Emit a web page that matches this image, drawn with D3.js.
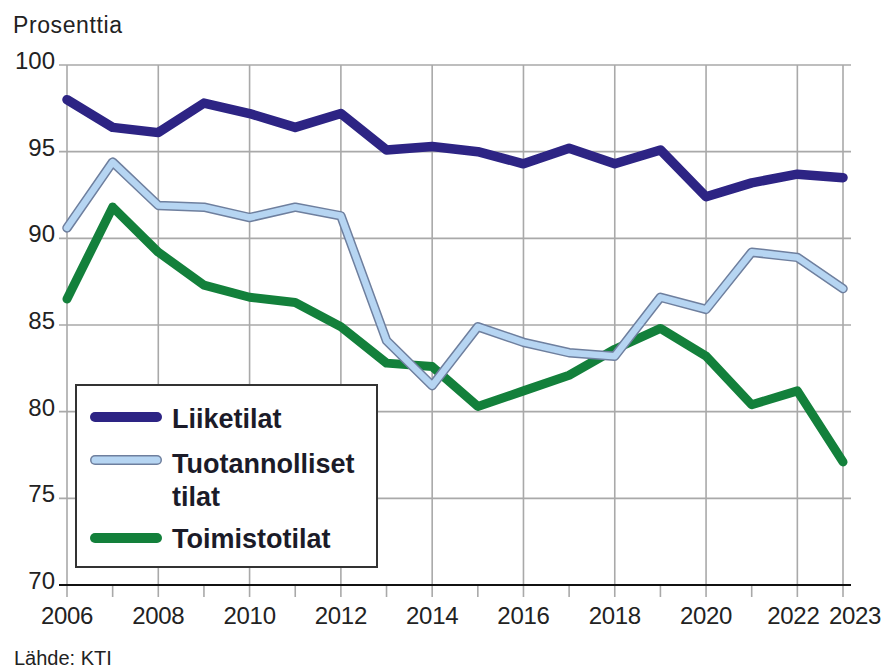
<!DOCTYPE html>
<html><head><meta charset="utf-8">
<script src="https://cdn.jsdelivr.net/npm/d3@7"></script>
<style>body{margin:0;background:#fff}svg{display:block}</style>
</head><body>
<svg id="c" width="888" height="670"></svg>
<script>
const years = [2006,2007,2008,2009,2010,2011,2012,2013,2014,2015,2016,2017,2018,2019,2020,2021,2022,2023];
const liiketilat = [98.0,96.4,96.1,97.8,97.2,96.4,97.2,95.1,95.3,95.0,94.3,95.2,94.3,95.1,92.4,93.2,93.7,93.5];
const tuotannolliset = [90.6,94.4,91.9,91.8,91.2,91.8,91.3,84.1,81.5,84.9,84.0,83.4,83.2,86.6,85.9,89.2,88.9,87.1];
const toimistotilat = [86.5,91.8,89.2,87.3,86.6,86.3,84.9,82.8,82.6,80.3,81.2,82.1,83.6,84.8,83.2,80.4,81.2,77.1];
const yTicks = [70,75,80,85,90,95,100];
const xTickLabels = [2006,2008,2010,2012,2014,2016,2018,2020,2022,2023];
const seriesNames = ["Liiketilat","Tuotannolliset tilat","Toimistotilat"];

const svg = d3.select("#c");
const x = d3.scaleLinear().domain([2006,2023]).range([67,843]);
const y = d3.scaleLinear().domain([70,100]).range([585,65]);
const font = "'Liberation Sans', Arial, Helvetica, sans-serif";
const grid = "#a9a9a9";

// horizontal gridlines
svg.append("g").selectAll("line").data(yTicks.filter(d=>d!==70)).join("line")
  .attr("x1",59).attr("x2",851).attr("y1",d=>y(d)).attr("y2",d=>y(d))
  .attr("stroke",grid).attr("stroke-width",1.6);
// vertical gridlines
svg.append("g").selectAll("line").data(xTickLabels).join("line")
  .attr("x1",d=>x(d)).attr("x2",d=>x(d)).attr("y1",y(100)).attr("y2",597)
  .attr("stroke",grid).attr("stroke-width",1.6);
// minor ticks for every year
svg.append("g").selectAll("line").data(years.filter(d=>!xTickLabels.includes(d))).join("line")
  .attr("x1",d=>x(d)).attr("x2",d=>x(d)).attr("y1",y(70)).attr("y2",597)
  .attr("stroke",grid).attr("stroke-width",1.6);
// baseline
svg.append("line").attr("x1",59).attr("x2",851).attr("y1",y(70)).attr("y2",y(70))
  .attr("stroke","#111").attr("stroke-width",2.2);

// y labels
svg.append("g").selectAll("text").data(yTicks).join("text")
  .attr("x",55).attr("y",d=>y(d)+4).attr("text-anchor","end")
  .attr("font-family",font).attr("font-size",24).attr("fill","#222")
  .text(d=>d);
// x labels (2022/2023 nudged apart as in the original)
const xShift = {2022:-4, 2023:12};
svg.append("g").selectAll("text").data(xTickLabels).join("text")
  .attr("x",d=>x(d)+(xShift[d]||0)).attr("y",624).attr("text-anchor","middle")
  .attr("font-family",font).attr("font-size",24).attr("fill","#222")
  .attr("letter-spacing",-0.3)
  .text(d=>d);

svg.append("text").attr("x",13).attr("y",33).attr("font-family",font).attr("font-size",23)
  .attr("fill","#222").attr("letter-spacing",0.6).text("Prosenttia");
svg.append("text").attr("x",14).attr("y",665).attr("font-family",font).attr("font-size",20)
  .attr("fill","#222").text("Lähde: KTI");

const line = d3.line().x((d,i)=>x(years[i])).y(d=>y(d));
function drawLine(vals, color, w){
  svg.append("path").datum(vals).attr("d",line).attr("fill","none")
    .attr("stroke",color).attr("stroke-width",w)
    .attr("stroke-linejoin","round").attr("stroke-linecap","round");
}
drawLine(toimistotilat,"#13803b",9);
drawLine(tuotannolliset,"#6e7f9e",9.5);
drawLine(tuotannolliset,"#b6d5f2",6.5);
drawLine(liiketilat,"#2d2484",9.5);

// legend
const lg = svg.append("g");
lg.append("rect").attr("x",76).attr("y",385).attr("width",301).attr("height",182)
  .attr("fill","#fff").attr("stroke","#333").attr("stroke-width",2);
const legendItems = [
  {name:seriesNames[0], lines:["Liiketilat"], sy:417, ty:[428], col:"#2d2484"},
  {name:seriesNames[1], lines:["Tuotannolliset","tilat"], sy:460, ty:[473,506], col:"#b6d5f2", outline:"#6e7f9e"},
  {name:seriesNames[2], lines:["Toimistotilat"], sy:538, ty:[548], col:"#13803b"}
];
legendItems.forEach(it=>{
  if(it.outline){
    lg.append("line").attr("x1",95).attr("x2",157).attr("y1",it.sy).attr("y2",it.sy)
      .attr("stroke",it.outline).attr("stroke-width",10).attr("stroke-linecap","round");
    lg.append("line").attr("x1",95).attr("x2",157).attr("y1",it.sy).attr("y2",it.sy)
      .attr("stroke",it.col).attr("stroke-width",7).attr("stroke-linecap","round");
  } else {
    lg.append("line").attr("x1",95).attr("x2",157).attr("y1",it.sy).attr("y2",it.sy)
      .attr("stroke",it.col).attr("stroke-width",10).attr("stroke-linecap","round");
  }
  it.lines.forEach((t,j)=>{
    lg.append("text").attr("x",172).attr("y",it.ty[j]).attr("font-family",font)
      .attr("font-size",27).attr("font-weight","bold").attr("fill","#1b1b28").text(t);
  });
});
</script>
</body></html>
